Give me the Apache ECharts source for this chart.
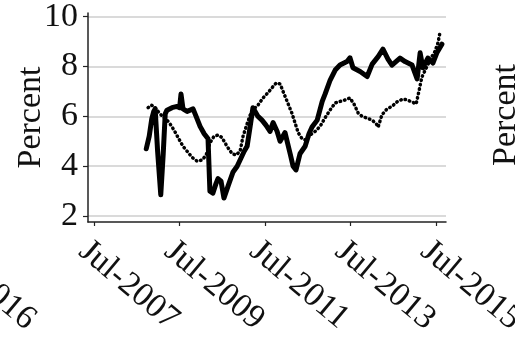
<!DOCTYPE html>
<html>
<head>
<meta charset="utf-8">
<script src="https://cdn.jsdelivr.net/npm/echarts@6/dist/echarts.min.js"></script>
<style>
  html, body { margin: 0; padding: 0; background: #fff; }
  #chart { width: 515px; height: 342px; }
</style>
</head>
<body>
<div id="chart"></div>
<script>
// Solid series: dates and percent values
const solidDates = [
  '2008-09-19','2008-10-14','2008-11-05','2008-11-22','2008-12-04','2008-12-25',
  '2009-01-21','2009-02-11','2009-02-28','2009-03-15','2009-04-27','2009-06-09',
  '2009-07-01','2009-07-13','2009-07-30','2009-09-03','2009-09-29','2009-10-24',
  '2009-11-19','2009-12-23','2010-01-27','2010-03-01','2010-03-17','2010-04-12',
  '2010-05-08','2010-05-25','2010-06-20','2010-07-15','2010-08-19','2010-10-01',
  '2010-11-05','2010-11-30','2011-01-04','2011-01-29','2011-02-24','2011-03-20',
  '2011-05-02','2011-06-05','2011-07-09','2011-08-13','2011-09-08','2011-10-12',
  '2011-11-07','2011-12-19','2012-02-01','2012-02-26','2012-03-22','2012-04-25',
  '2012-06-08','2012-07-11','2012-08-06','2012-09-19','2012-11-01','2012-11-26',
  '2013-01-08','2013-02-20','2013-04-02','2013-06-01','2013-06-26','2013-07-22',
  '2013-09-21','2013-11-20','2014-01-02','2014-02-22','2014-04-04','2014-05-17',
  '2014-06-20','2014-08-28','2014-10-10','2014-12-09','2015-01-21','2015-02-16',
  '2015-03-11','2015-04-23','2015-06-05','2015-07-09','2015-08-21'
];
const solidValues = [
  4.70, 5.20, 5.90, 6.20, 6.30, 4.60,
  2.85, 4.50, 6.10, 6.25, 6.35, 6.40,
  6.35, 6.90, 6.30, 6.20, 6.25, 6.30,
  6.00, 5.60, 5.30, 5.10, 3.00, 2.92,
  3.30, 3.50, 3.40, 2.72, 3.20, 3.77,
  4.00, 4.25, 4.60, 4.80, 5.60, 6.35,
  6.00, 5.85, 5.65, 5.40, 5.75, 5.40,
  5.00, 5.35, 4.50, 4.00, 3.85, 4.50,
  4.80, 5.30, 5.57, 5.85, 6.60, 6.90,
  7.46, 7.86, 8.06, 8.20, 8.35, 7.95,
  7.80, 7.60, 8.10, 8.40, 8.70, 8.30,
  8.06, 8.34, 8.20, 8.06, 7.50, 8.55,
  7.95, 8.34, 8.14, 8.55, 8.90
];

// Dotted series: dates and percent values
const dottedDates = [
  '2008-10-05','2008-11-01','2008-11-26','2008-12-29','2009-02-03','2009-03-07',
  '2009-04-10','2009-05-14','2009-06-18','2009-07-30','2009-09-12','2009-10-16',
  '2009-11-28','2010-01-10','2010-02-13','2010-03-17','2010-04-21','2010-05-25',
  '2010-06-28','2010-08-10','2010-09-23','2010-10-27','2010-11-30','2010-12-25',
  '2011-01-29','2011-02-24','2011-03-28','2011-05-02','2011-06-14','2011-07-26',
  '2011-08-30','2011-10-04','2011-11-07','2011-12-11','2012-01-15','2012-02-18',
  '2012-03-13','2012-04-09','2012-05-13','2012-06-16','2012-07-20','2012-09-02',
  '2012-10-14','2012-11-26','2013-01-08','2013-02-20','2013-04-02','2013-05-15',
  '2013-06-26','2013-07-30','2013-09-04','2013-10-08','2013-11-20','2014-01-02',
  '2014-02-06','2014-02-22','2014-03-26','2014-05-09','2014-06-20','2014-08-02',
  '2014-09-23','2014-10-27','2014-12-09','2015-01-13','2015-02-08','2015-03-03',
  '2015-04-15','2015-05-27','2015-06-22','2015-07-18','2015-08-04'
];
const dottedValues = [
  6.35, 6.45, 6.40, 6.20, 6.00, 5.90,
  5.70, 5.45, 5.15, 4.80, 4.55, 4.35,
  4.20, 4.25, 4.45, 4.93, 5.20, 5.25,
  5.15, 4.80, 4.50, 4.45, 4.60, 5.20,
  5.70, 6.05, 6.30, 6.45, 6.74, 6.95,
  7.15, 7.34, 7.30, 6.90, 6.50, 6.10,
  5.75, 5.35, 5.10, 5.05, 5.25, 5.40,
  5.60, 5.95, 6.26, 6.54, 6.60, 6.66,
  6.74, 6.50, 6.14, 6.00, 5.93, 5.85,
  5.70, 5.57, 6.06, 6.30, 6.40, 6.58,
  6.70, 6.66, 6.58, 6.50, 7.06, 7.58,
  8.00, 8.40, 8.60, 8.95, 9.35
];

// Axis ticks
const yTicks = [2, 4, 6, 8, 10];
const xTicks = ['2007-07-01', '2009-07-01', '2011-07-01', '2013-07-01', '2015-07-01'];
const monthNames = ['Jan','Feb','Mar','Apr','May','Jun','Jul','Aug','Sep','Oct','Nov','Dec'];

const FONT = '"Liberation Serif", "Times New Roman", serif';
const LABEL_ROT = -40;

// Dates are placed on a numeric (millisecond) axis
const ms = (s) => Date.parse(s + 'T00:00:00Z');
function zip(dates, values) {
  return dates.map((d, i) => [ms(d), values[i]]);
}
function fmtDate(v) {
  const d = new Date(v);
  return monthNames[d.getUTCMonth()] + '-' + d.getUTCFullYear();
}

const chart = echarts.init(document.getElementById('chart'), null, { renderer: 'canvas' });

chart.setOption({
  animation: false,
  backgroundColor: '#ffffff',
  grid: {
    left: 88, right: 69, top: 13, bottom: 120,
    containLabel: false,
    outerBoundsMode: 'none'
  },
  xAxis: {
    type: 'value',
    min: ms('2007-05-10'),
    max: ms('2015-09-25'),
    axisLine: { show: true, lineStyle: { color: '#222', width: 1.5 } },
    axisTick: {
      show: true, length: 4, inside: false,
      customValues: xTicks.map(ms),
      lineStyle: { color: '#222', width: 1.2 }
    },
    splitLine: { show: false },
    axisLabel: {
      customValues: xTicks.map(ms),
      rotate: LABEL_ROT,
      align: 'left',
      verticalAlign: 'top',
      margin: 12,
      color: '#111',
      fontFamily: FONT,
      fontSize: 34,
      formatter: fmtDate
    }
  },
  yAxis: {
    type: 'value',
    min: 1.76,
    max: 10.15,
    name: 'Percent',
    nameLocation: 'middle',
    nameRotate: 90,
    nameGap: 40,
    nameMoveOverlap: false,
    nameTextStyle: { color: '#111', fontFamily: FONT, fontSize: 34 },
    axisLine: { show: true, lineStyle: { color: '#222', width: 1.5 } },
    axisTick: {
      show: true, length: 5, inside: false,
      customValues: yTicks,
      lineStyle: { color: '#222', width: 1.2 }
    },
    splitLine: { show: true, lineStyle: { color: '#dadada', width: 2 } },
    axisLabel: {
      customValues: yTicks,
      margin: 10,
      color: '#111',
      fontFamily: FONT,
      fontSize: 34
    }
  },
  // Pieces of the neighbouring panels at the left and right edges
  graphic: [
    {
      type: 'text',
      x: -49, y: 234,
      rotation: LABEL_ROT * Math.PI / 180,
      style: {
        text: 'Jul-2016',
        fill: '#111',
        font: '34px ' + FONT,
        textAlign: 'left',
        textVerticalAlign: 'top'
      }
    },
    {
      type: 'text',
      x: 506, y: 115,
      rotation: Math.PI / 2,
      style: {
        text: 'Percent',
        fill: '#111',
        font: '34px ' + FONT,
        textAlign: 'center',
        textVerticalAlign: 'middle'
      }
    }
  ],
  series: [
    {
      name: 'solid',
      type: 'line',
      data: zip(solidDates, solidValues),
      showSymbol: false,
      symbol: 'none',
      lineStyle: { color: '#000', width: 5, join: 'round', cap: 'round' },
      z: 2
    },
    {
      name: 'dotted',
      type: 'line',
      data: zip(dottedDates, dottedValues),
      showSymbol: false,
      symbol: 'none',
      lineStyle: { color: '#000', width: 3.5, type: [0.5, 4], cap: 'round', join: 'round' },
      z: 3
    }
  ]
});
</script>
</body>
</html>
